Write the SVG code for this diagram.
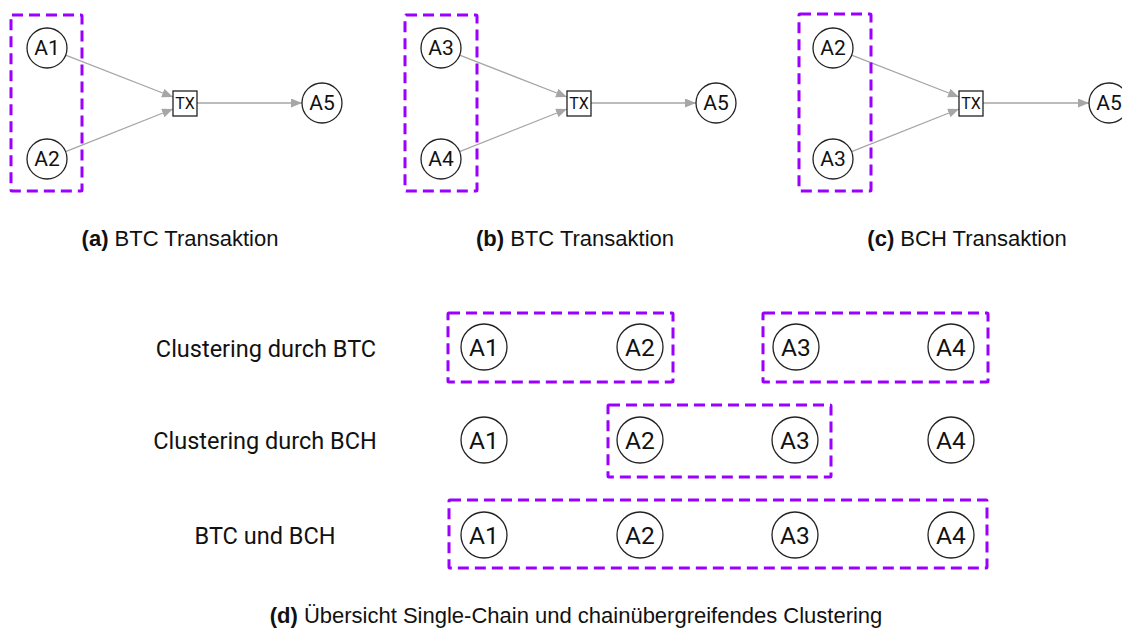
<svg xmlns="http://www.w3.org/2000/svg" width="1122" height="628" viewBox="0 0 1122 628">
<style>
.bg{fill:#fff}
.node circle{fill:#fff;stroke:#222;stroke-width:1.3}
.tx rect{fill:#fff;stroke:#222;stroke-width:1.3}
.nt{font-family:Roboto,"Liberation Sans",sans-serif;font-size:21px;fill:#111;text-anchor:middle;dominant-baseline:central}
.nb{font-size:24.5px}
.txt{font-family:Roboto,"Liberation Sans",sans-serif;font-size:16px;fill:#111;text-anchor:middle;dominant-baseline:central}
.cl{fill:none;stroke:#9a00ff;stroke-width:3;stroke-dasharray:11 6;stroke-linejoin:round}
.edge{stroke:#a6a6a6;stroke-width:1.3;fill:none;marker-end:url(#ah)}
.cap{font-family:"Liberation Sans",Arial,sans-serif;font-size:22px;fill:#111;text-anchor:middle}
.lab{font-family:Roboto,"Liberation Sans",sans-serif;font-size:23.5px;fill:#111;text-anchor:middle}
</style>
<defs>
<marker id="ah" markerUnits="userSpaceOnUse" markerWidth="12" markerHeight="10" refX="11" refY="4.5" orient="auto">
<path d="M0,0 L11,4.5 L0,9 z" fill="#a6a6a6"/>
</marker>
</defs>
<rect class="bg" x="0" y="0" width="1122" height="628"/>

<g id="connectors">
<path class="edge" d="M65.6,55.2 L173,97"/>
<path class="edge" d="M65.6,151.6 L173,109"/>
<path class="edge" d="M197,103 L302,103"/>
<path class="edge" d="M459.6,55.2 L567,97"/>
<path class="edge" d="M459.6,151.6 L567,109"/>
<path class="edge" d="M591,103 L696,103"/>
<path class="edge" d="M851.6,55.2 L959,97"/>
<path class="edge" d="M851.6,151.6 L959,109"/>
<path class="edge" d="M983,103 L1089,103"/>
</g>

<!-- (a) -->
<g id="a-cluster"><rect class="cl" x="11" y="15" width="71" height="176" rx="1"/></g>
<g id="a-A1" class="node"><circle cx="47" cy="48" r="20"/><text class="nt" x="47" y="48">A1</text></g>
<g id="a-A2" class="node"><circle cx="47" cy="159" r="20"/><text class="nt" x="47" y="159">A2</text></g>
<g id="a-TX" class="tx"><rect x="173" y="91" width="24" height="25"/><text class="txt" x="185" y="103.5">TX</text></g>
<g id="a-A5" class="node"><circle cx="322" cy="103" r="20"/><text class="nt" x="322" y="103">A5</text></g>
<text class="cap" x="180" y="246"><tspan font-weight="bold">(a)</tspan> BTC Transaktion</text>

<!-- (b) -->
<g id="b-cluster"><rect class="cl" x="405" y="15" width="72" height="176" rx="1"/></g>
<g id="b-A3" class="node"><circle cx="441" cy="48" r="20"/><text class="nt" x="441" y="48">A3</text></g>
<g id="b-A4" class="node"><circle cx="441" cy="159" r="20"/><text class="nt" x="441" y="159">A4</text></g>
<g id="b-TX" class="tx"><rect x="567" y="91" width="24" height="25"/><text class="txt" x="579" y="103.5">TX</text></g>
<g id="b-A5" class="node"><circle cx="716" cy="103" r="20"/><text class="nt" x="716" y="103">A5</text></g>
<text class="cap" x="575" y="246"><tspan font-weight="bold">(b)</tspan> BTC Transaktion</text>

<!-- (c) -->
<g id="c-cluster"><rect class="cl" x="799" y="14" width="72" height="177" rx="1"/></g>
<g id="c-A2" class="node"><circle cx="833" cy="48" r="20"/><text class="nt" x="833" y="48">A2</text></g>
<g id="c-A3" class="node"><circle cx="833" cy="159" r="20"/><text class="nt" x="833" y="159">A3</text></g>
<g id="c-TX" class="tx"><rect x="959" y="91" width="24" height="25"/><text class="txt" x="971" y="103.5">TX</text></g>
<g id="c-A5" class="node"><circle cx="1109" cy="103" r="20"/><text class="nt" x="1109" y="103">A5</text></g>
<text class="cap" x="967" y="246"><tspan font-weight="bold">(c)</tspan> BCH Transaktion</text>

<!-- (d) -->
<text class="lab" x="266" y="357">Clustering durch BTC</text>
<text class="lab" x="265" y="449">Clustering durch BCH</text>
<text class="lab" x="265" y="544">BTC und BCH</text>

<g id="r1-cluster1"><rect class="cl" x="448" y="313" width="225" height="69" rx="1"/></g>
<g id="r1-cluster2"><rect class="cl" x="763" y="313" width="225" height="69" rx="1"/></g>
<g id="r1-A1" class="node"><circle cx="484" cy="347" r="23"/><text class="nt nb" x="484" y="347">A1</text></g>
<g id="r1-A2" class="node"><circle cx="640" cy="347" r="23"/><text class="nt nb" x="640" y="347">A2</text></g>
<g id="r1-A3" class="node"><circle cx="796" cy="347" r="23"/><text class="nt nb" x="796" y="347">A3</text></g>
<g id="r1-A4" class="node"><circle cx="951" cy="347" r="23"/><text class="nt nb" x="951" y="347">A4</text></g>

<g id="r2-cluster"><rect class="cl" x="608" y="405" width="223" height="72" rx="1"/></g>
<g id="r2-A1" class="node"><circle cx="484" cy="440" r="23"/><text class="nt nb" x="484" y="440">A1</text></g>
<g id="r2-A2" class="node"><circle cx="640" cy="440" r="23"/><text class="nt nb" x="640" y="440">A2</text></g>
<g id="r2-A3" class="node"><circle cx="795" cy="440" r="23"/><text class="nt nb" x="795" y="440">A3</text></g>
<g id="r2-A4" class="node"><circle cx="951" cy="440" r="23"/><text class="nt nb" x="951" y="440">A4</text></g>

<g id="r3-cluster"><rect class="cl" x="449" y="500" width="538" height="68" rx="1"/></g>
<g id="r3-A1" class="node"><circle cx="484" cy="535" r="23"/><text class="nt nb" x="484" y="535">A1</text></g>
<g id="r3-A2" class="node"><circle cx="640" cy="535" r="23"/><text class="nt nb" x="640" y="535">A2</text></g>
<g id="r3-A3" class="node"><circle cx="795" cy="535" r="23"/><text class="nt nb" x="795" y="535">A3</text></g>
<g id="r3-A4" class="node"><circle cx="951" cy="535" r="23"/><text class="nt nb" x="951" y="535">A4</text></g>

<text class="cap" x="576" y="623"><tspan font-weight="bold">(d)</tspan> Übersicht Single-Chain und chainübergreifendes Clustering</text>
</svg>
